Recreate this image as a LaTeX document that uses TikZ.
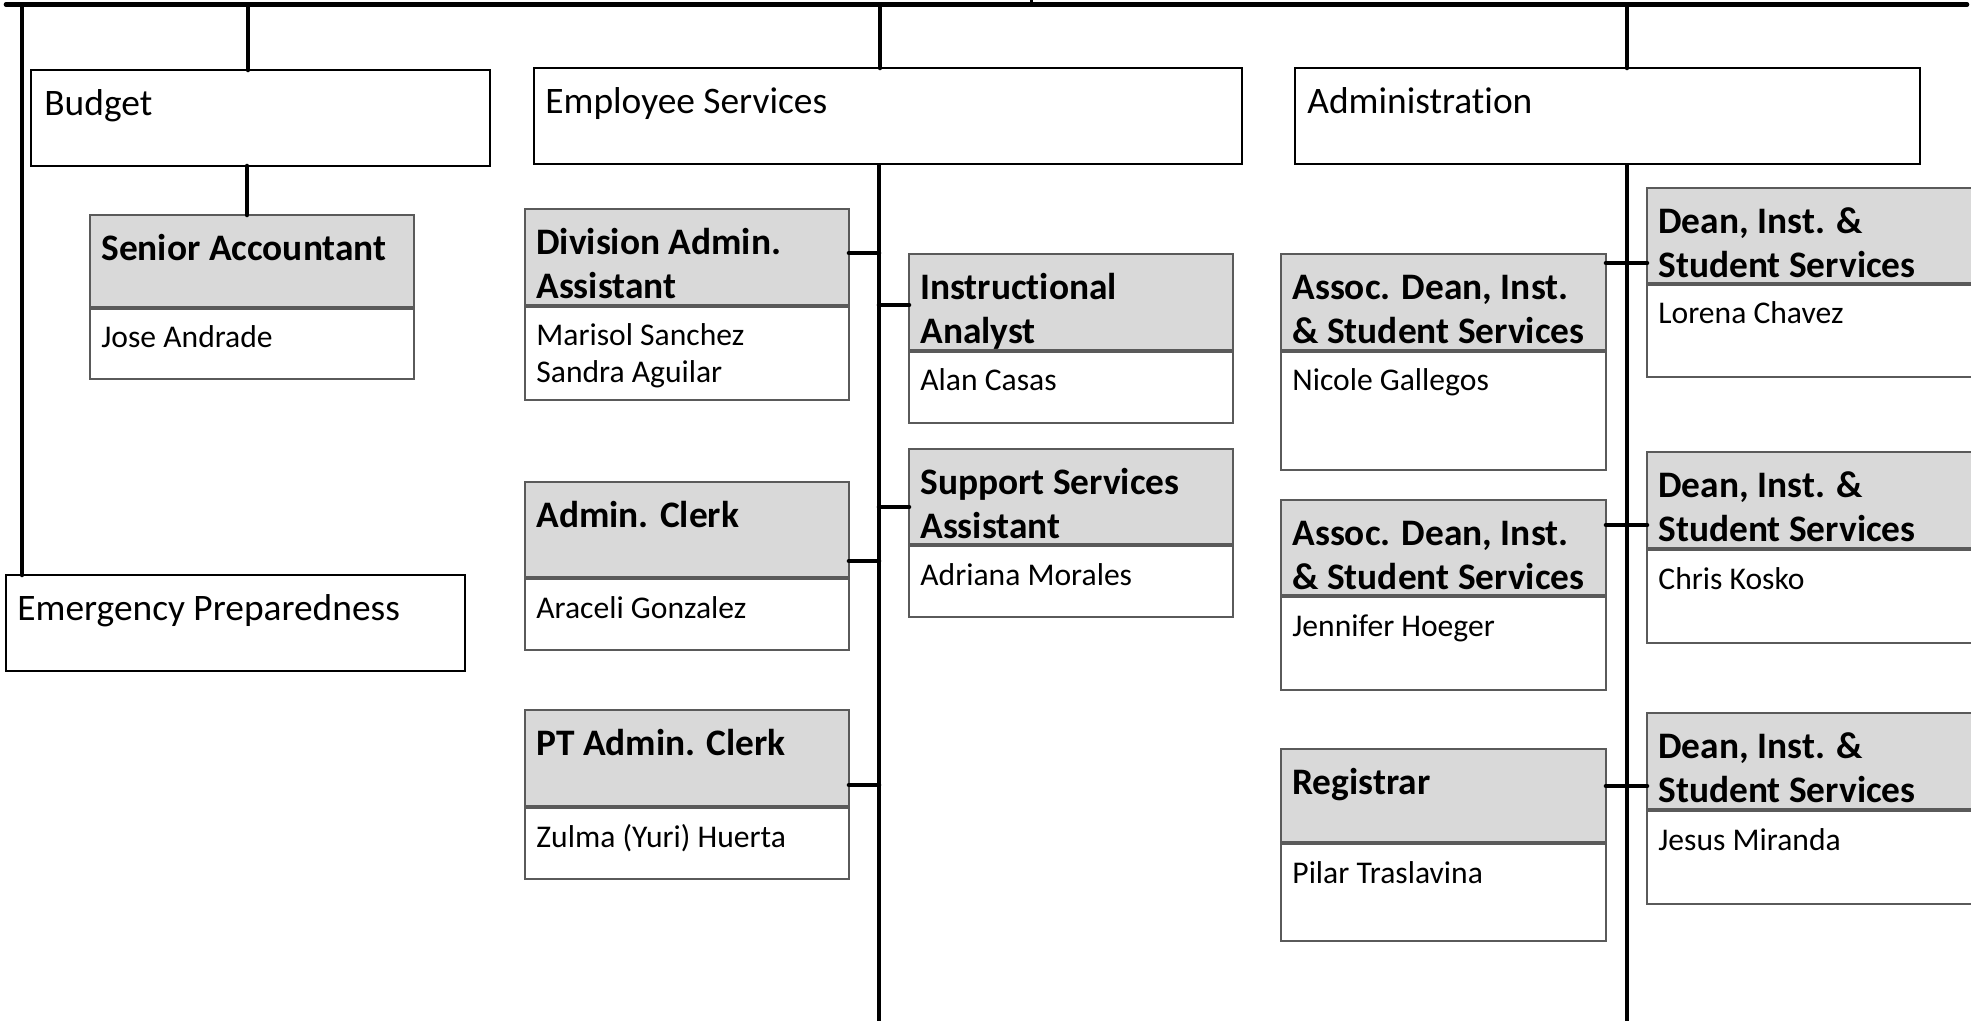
\documentclass[tikz,border=0pt]{standalone}
\usepackage{fontspec}
\setmainfont{Carlito}[Ligatures=NoCommon]
\definecolor{hdrgray}{HTML}{D9D9D9}
\definecolor{boxgray}{HTML}{5A5A5A}
\newcommand\orgbox[8]{%
  % #1 name, #2 x, #3 top, #4 header bottom, #5 bottom, #6 width, #7 title lines, #8 name lines
  \node[hdr, minimum width={#6*0.5pt}, minimum height={(#4-#3)*0.5pt}] (#1h) at (#2,#3) {};
  \node[nbox, minimum width={#6*0.5pt}, minimum height={(#5-#4-2)*0.5pt}] (#1n) at (#2,#4+2) {};
  \foreach \ttxt [count=\k] in {#7} \node[ttl] (#1t\k) at ({#2+11},{#3+45.5+44*(\k-1)}) {\ttxt};
  \foreach \ttxt [count=\k] in {#8} \node[nm] (#1p\k) at ({#2+11},{#4+41+37*(\k-1)}) {\ttxt};
}
\begin{document}
\begin{tikzpicture}[x=0.5pt,y=-0.5pt,
  hdr/.style={draw=boxgray, line width=0.6pt, fill=hdrgray, inner sep=0, outer sep=0, anchor=north west},
  nbox/.style={draw=boxgray, line width=0.6pt, fill=white, inner sep=0, outer sep=0, anchor=north west},
  topbox/.style={draw=black, line width=1pt, fill=white, inner sep=0, outer sep=0, anchor=north west},
  ttl/.style={font=\bfseries\fontsize{18.7}{22}\selectfont, anchor=base west, inner sep=0},
  nm/.style={font=\fontsize{15.8}{18.5}\selectfont, anchor=base west, inner sep=0},
  toptxt/.style={font=\fontsize{18.7}{22}\selectfont, anchor=base west, inner sep=0},
  conn/.style={line width=2.3pt, line cap=round}]
\useasboundingbox (0,0) rectangle (1971,1021);
\clip (0,0) rectangle (1971,1021);

% top-level boxes
\node[topbox, minimum width={459*0.5pt}, minimum height={96*0.5pt}] (budget) at (31,70) {};
\node[toptxt] (budgett) at (44,116) {Budget};
\node[topbox, minimum width={708*0.5pt}, minimum height={96*0.5pt}] (emp) at (534,68) {};
\node[toptxt] (empt) at (545,114) {Employee Services};
\node[topbox, minimum width={625*0.5pt}, minimum height={96*0.5pt}] (adm) at (1295,68) {};
\node[toptxt] (admt) at (1307,114) {Administration};
\node[topbox, minimum width={459*0.5pt}, minimum height={96*0.5pt}] (emer) at (6,575) {};
\node[toptxt] (emert) at (17,620) {Emergency Preparedness};

% position boxes
\orgbox{sa}{90}{215}{307}{379}{324}{Senior Accountant}{Jose Andrade}
\orgbox{da}{525}{209}{305}{400}{324}{Division Admin.,Assistant}{Marisol Sanchez,Sandra Aguilar}
\orgbox{ia}{909}{254}{350}{423}{324}{Instructional,Analyst}{Alan Casas}
\orgbox{ss}{909}{449}{544}{617}{324}{Support Services,Assistant}{Adriana Morales}
\orgbox{ac}{525}{482}{577}{650}{324}{Admin. Clerk}{Araceli Gonzalez}
\orgbox{pt}{525}{710}{806}{879}{324}{PT Admin. Clerk}{Zulma (Yuri) Huerta}
\orgbox{adone}{1281}{254}{350}{470}{325}{{Assoc. Dean, Inst.},{\& Student Services}}{Nicole Gallegos}
\orgbox{adtwo}{1281}{500}{595}{690}{325}{{Assoc. Dean, Inst.},{\& Student Services}}{Jennifer Hoeger}
\orgbox{rg}{1281}{749}{842}{941}{325}{Registrar}{Pilar Traslavina}
\orgbox{dnone}{1647}{188}{283}{377}{340}{{Dean, Inst. \&},{Student Services}}{Lorena Chavez}
\orgbox{dntwo}{1647}{452}{548}{643}{340}{{Dean, Inst. \&},{Student Services}}{Chris Kosko}
\orgbox{dnthree}{1647}{713}{809}{904}{340}{{Dean, Inst. \&},{Student Services}}{Jesus Miranda}

% top bar and drops
\coordinate (tl) at (6,4.5);
\coordinate (tr) at (1967,4.5);
\coordinate (tick) at (1031,0);
\draw[conn] (tl) -- (tr);
\draw[line width=1.5pt] (tick) -- (tick |- tl);
\coordinate (lj) at (22,4.5);
\draw[conn] (lj) -- (lj |- emer.north);
\coordinate (bj) at (248,4.5);
\draw[conn] (bj) -- (bj |- budget.north);
\coordinate (bsj) at (247,0);
\draw[conn] (bsj |- budget.south) -- (bsj |- sah.north);
\coordinate (ej) at (880,4.5);
\draw[conn] (ej) -- (ej |- emp.north);
\coordinate (aj) at (1627,4.5);
\draw[conn] (aj) -- (aj |- adm.north);

% spines
\coordinate (ebot) at (879,1024);
\draw[line width=2.3pt] (ebot |- emp.south) -- (ebot);
\coordinate (abot) at (1627,1024);
\draw[line width=2.3pt] (abot |- adm.south) -- (abot);

% employee services branches
\coordinate (jda) at (879,253);
\draw[conn] (jda -| dah.east) -- (jda);
\coordinate (jia) at (879,305);
\draw[conn] (jia) -- (jia -| iah.west);
\coordinate (jss) at (879,507);
\draw[conn] (jss) -- (jss -| ssh.west);
\coordinate (jac) at (879,561);
\draw[conn] (jac -| ach.east) -- (jac);
\coordinate (jpt) at (879,785);
\draw[conn] (jpt -| pth.east) -- (jpt);

% administration branches
\coordinate (jone) at (1627,263);
\draw[conn] (jone -| adoneh.east) -- (jone -| dnoneh.west);
\coordinate (jtwo) at (1627,525);
\draw[conn] (jtwo -| adtwoh.east) -- (jtwo -| dntwoh.west);
\coordinate (jthree) at (1627,786);
\draw[conn] (jthree -| rgh.east) -- (jthree -| dnthreeh.west);
\end{tikzpicture}
\end{document}
